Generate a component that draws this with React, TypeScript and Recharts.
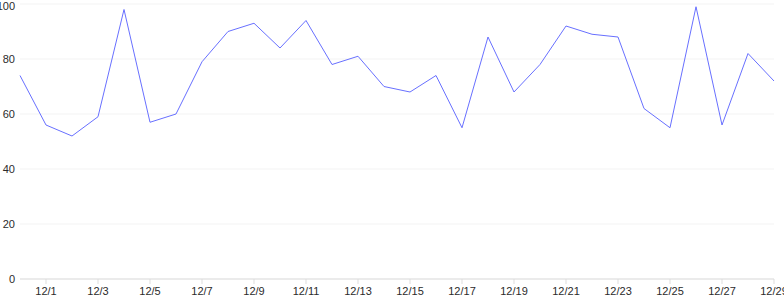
import { LineChart, Line, XAxis, YAxis, CartesianGrid } from 'recharts';

const dates = [
  '11/30', '12/1', '12/2', '12/3', '12/4', '12/5', '12/6', '12/7', '12/8', '12/9',
  '12/10', '12/11', '12/12', '12/13', '12/14', '12/15', '12/16', '12/17', '12/18', '12/19',
  '12/20', '12/21', '12/22', '12/23', '12/24', '12/25', '12/26', '12/27', '12/28', '12/29',
];

const values = [
  74, 56, 52, 59, 98, 57, 60, 79, 90, 93,
  84, 94, 78, 81, 70, 68, 74, 55, 88, 68,
  78, 92, 89, 88, 62, 55, 99, 56, 82, 72,
];

// only every other date gets a label
const xTicks = dates.filter((_, i) => i % 2 === 1);
const yTicks = [0, 20, 40, 60, 80, 100];

const data = dates.map((date, i) => ({ date, value: values[i] }));

const tickStyle = { fontSize: 11, fill: '#2b2b2b', fontFamily: 'Liberation Sans, Arial, sans-serif' };

export default function App() {
  return (
    <div style={{ position: 'absolute', left: 0, top: 0, width: 784, height: 300, overflow: 'hidden' }}>
      <LineChart width={784} height={300} data={data} margin={{ top: 4, right: 10, left: 0, bottom: 0 }}>
        <CartesianGrid vertical={false} stroke="#f3f3f3" />
        <XAxis
          dataKey="date"
          ticks={xTicks}
          interval={0}
          stroke="#ddd"
          tickSize={5}
          tickMargin={3}
          tick={tickStyle}
          height={21}
        />
        <YAxis
          width={20}
          domain={[0, 100]}
          ticks={yTicks}
          axisLine={false}
          tickLine={false}
          tickSize={5}
          tickMargin={0}
          tick={tickStyle}
        />
        <Line
          type="linear"
          dataKey="value"
          stroke="#6870ff"
          strokeWidth={1}
          dot={false}
          isAnimationActive={false}
        />
      </LineChart>
    </div>
  );
}
